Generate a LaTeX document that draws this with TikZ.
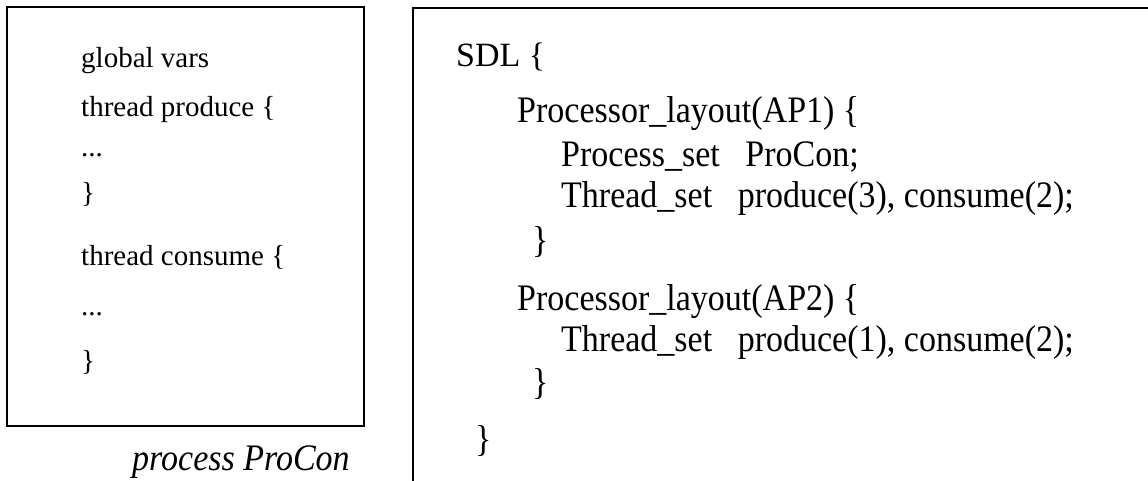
\documentclass[tikz,border=0pt]{standalone}
\usepackage{graphicx}
\usepackage{fontspec}
\setmainfont{Liberation Serif}
\newcommand{\tallrow}[1]{\scalebox{1}[1.1]{#1}}
\tikzset{
  codeline/.style={anchor=base west,inner sep=0pt,font=\fontsize{29}{29}\selectfont},
  sdlline/.style={anchor=base west,inner sep=0pt,font=\fontsize{34}{34}\selectfont},
  caption/.style={anchor=base west,inner sep=0pt,font=\fontsize{34}{34}\selectfont\itshape},
  frame/.style={line width=1.4pt}
}
\begin{document}
\begin{tikzpicture}[x=1pt,y=1pt]
    \useasboundingbox (0,0) rectangle (1148,480);
    \clip (0,0) rectangle (1148,480);
    % set coordinates
    \coordinate (P1) at (7,473);
    \coordinate (P2) at (364,54);
    \coordinate (S1) at (413,472);
    \coordinate (S2) at (1160,472);
    \coordinate (S3) at (413,-10);
    % draw figure
    \draw [frame] (P1) rectangle (P2);
    \draw [frame] (S2) -- (S1) -- (S3);
    % add labels (process box)
    \node [codeline] (gv) at (81,412) {global vars};
    \node [codeline] (tp) at (81,363) {thread produce \{};
    \node [codeline] (d1) at (81,323) {...};
    \node [codeline] (e1) at (81,277) {\}};
    \node [codeline] (tc) at (81,215) {thread consume \{};
    \node [codeline] (d2) at (81,165) {...};
    \node [codeline] (e2) at (81,110) {\}};
    \node [caption] (pc) at (132,10) {\tallrow{process ProCon}};
    % add labels (SDL box)
    \node [sdlline] (sdl) at (456,413) {SDL \{};
    \node [sdlline] (pl1) at (517,357) {\tallrow{Processor\_layout(AP1) \{}};
    \node [sdlline] (ps) at (561,313) {\tallrow{Process\_set\ \ \ ProCon;}};
    \node [sdlline] (ts1) at (561,272) {\tallrow{Thread\_set\ \ \ produce(3), consume(2);}};
    \node [sdlline] (c1) at (532,228) {\tallrow{\}}};
    \node [sdlline] (pl2) at (517,170) {\tallrow{Processor\_layout(AP2) \{}};
    \node [sdlline] (ts2) at (561,129) {\tallrow{Thread\_set\ \ \ produce(1), consume(2);}};
    \node [sdlline] (c2) at (532,86) {\tallrow{\}}};
    \node [sdlline] (c3) at (475,29) {\tallrow{\}}};
\end{tikzpicture}
\end{document}
